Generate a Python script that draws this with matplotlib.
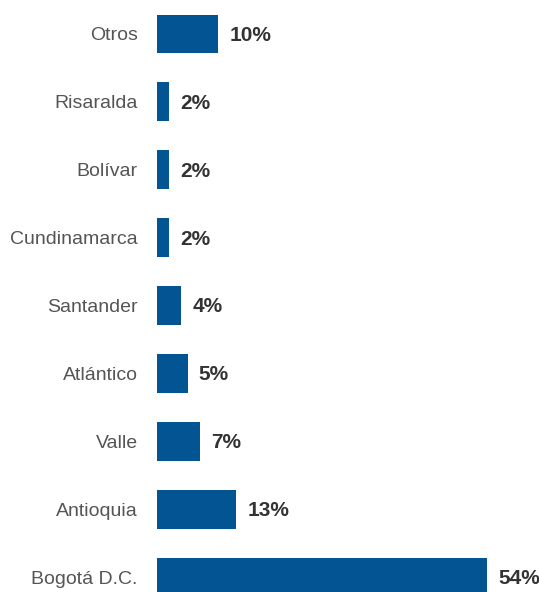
import matplotlib.pyplot as plt

# Datos (de abajo hacia arriba)
departamentos = ['Bogotá D.C.', 'Antioquia', 'Valle', 'Atlántico', 'Santander',
                 'Cundinamarca', 'Bolívar', 'Risaralda', 'Otros']
porcentajes = [54, 13, 7, 5, 4, 2, 2, 2, 10]

plt.rcParams['font.family'] = ['Liberation Sans', 'DejaVu Sans']

fig = plt.figure(figsize=(5.39, 5.92), dpi=100)
ax = fig.add_axes([157 / 539, 0, 1 - 157 / 539, 1])

pos = list(range(len(departamentos)))
ax.barh(pos, porcentajes, height=0.57, color='#035493')

for y, v in zip(pos, porcentajes):
    ax.annotate(f'{v}%', xy=(v, y), xytext=(8, -1), textcoords='offset points',
                va='center', ha='left', fontsize=15, fontweight='bold', color='#333333')

ax.set_xlim(0, 62.5)
ax.set_ylim(-0.22, 8.5)
ax.set_yticks(pos)
ax.set_yticklabels(departamentos, fontsize=14, color='#555555')
ax.tick_params(axis='y', length=0, pad=14)
ax.set_xticks([])
for s in ax.spines.values():
    s.set_visible(False)

fig.savefig('out.png', dpi=100)
